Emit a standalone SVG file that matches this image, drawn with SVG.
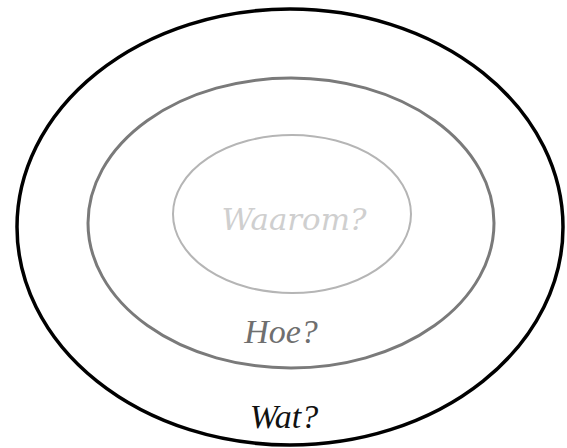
<svg xmlns="http://www.w3.org/2000/svg" width="567" height="448" viewBox="0 0 567 448">
<style>
.lbl{font-family:"Liberation Serif","DejaVu Serif",serif;font-style:italic;text-anchor:middle}
.ring{fill:none}
</style>
<rect width="567" height="448" fill="#ffffff"/>
<g id="wat">
<ellipse class="ring" cx="290" cy="227" rx="273" ry="218" stroke="#000000" stroke-width="3.5"/>
<text class="lbl" x="284" y="428" font-size="34" fill="#111111">Wat?</text>
</g>
<g id="hoe">
<ellipse class="ring" cx="291" cy="223" rx="203" ry="145" stroke="#7a7a7a" stroke-width="3"/>
<text class="lbl" x="281" y="343" font-size="34" fill="#6f6f6f">Hoe?</text>
</g>
<g id="waarom">
<ellipse class="ring" cx="292" cy="214" rx="119" ry="79" stroke="#b5b5b5" stroke-width="2"/>
<text class="lbl" x="294" y="230" font-size="29" fill="#cfcfcf" style="font-family:'DejaVu Serif',serif" textLength="145" lengthAdjust="spacingAndGlyphs">Waarom?</text>
</g>
<g id="connectors"/>
</svg>
